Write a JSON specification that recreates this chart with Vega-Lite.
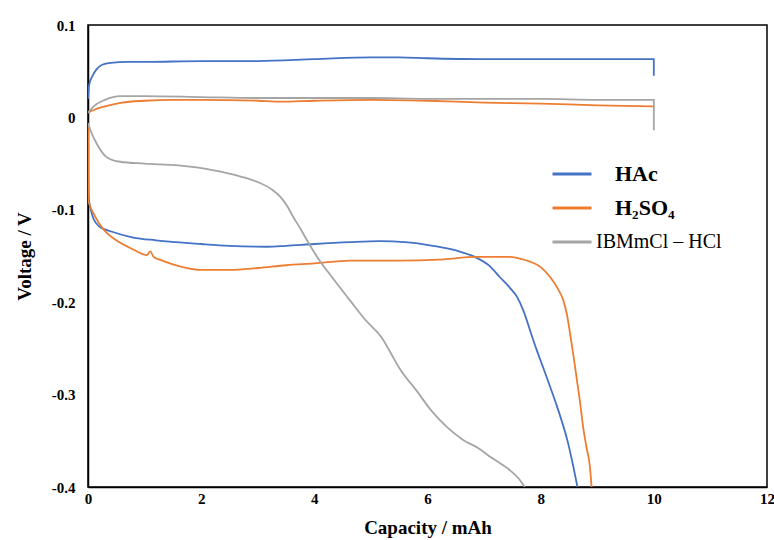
{
  "$schema": "https://vega.github.io/schema/vega-lite/v6.json",
  "autosize": {"type": "none"},
  "width": 679,
  "height": 462,
  "padding": {"left": 88, "top": 25, "right": 7, "bottom": 53},
  "background": "white",
  "config": {
    "view": {"stroke": "black", "strokeWidth": 1.5},
    "font": "Liberation Serif"
  },
  "data": {
    "values": [
      {"s":"HAc","g":"c","i":0,"x":0,"v":0.02},
      {"s":"HAc","g":"c","i":1,"x":0.02,"v":0.035},
      {"s":"HAc","g":"c","i":2,"x":0.08,"v":0.045},
      {"s":"HAc","g":"c","i":3,"x":0.15,"v":0.052},
      {"s":"HAc","g":"c","i":4,"x":0.25,"v":0.057},
      {"s":"HAc","g":"c","i":5,"x":0.4,"v":0.059},
      {"s":"HAc","g":"c","i":6,"x":0.7,"v":0.06},
      {"s":"HAc","g":"c","i":7,"x":1,"v":0.06},
      {"s":"HAc","g":"c","i":8,"x":2,"v":0.061},
      {"s":"HAc","g":"c","i":9,"x":3,"v":0.061},
      {"s":"HAc","g":"c","i":10,"x":4,"v":0.063},
      {"s":"HAc","g":"c","i":11,"x":5,"v":0.065},
      {"s":"HAc","g":"c","i":12,"x":5.5,"v":0.065},
      {"s":"HAc","g":"c","i":13,"x":6,"v":0.064},
      {"s":"HAc","g":"c","i":14,"x":7,"v":0.063},
      {"s":"HAc","g":"c","i":15,"x":8,"v":0.063},
      {"s":"HAc","g":"c","i":16,"x":9,"v":0.063},
      {"s":"HAc","g":"c","i":17,"x":10,"v":0.063},
      {"s":"HAc","g":"c","i":18,"x":10,"v":0.045},

      {"s":"HAc","g":"d","i":0,"x":0,"v":-0.057},
      {"s":"HAc","g":"d","i":1,"x":0.01,"v":-0.085},
      {"s":"HAc","g":"d","i":2,"x":0.05,"v":-0.1},
      {"s":"HAc","g":"d","i":3,"x":0.1,"v":-0.11},
      {"s":"HAc","g":"d","i":4,"x":0.2,"v":-0.118},
      {"s":"HAc","g":"d","i":5,"x":0.44,"v":-0.124},
      {"s":"HAc","g":"d","i":6,"x":0.8,"v":-0.13},
      {"s":"HAc","g":"d","i":7,"x":1.2,"v":-0.133},
      {"s":"HAc","g":"d","i":8,"x":2,"v":-0.137},
      {"s":"HAc","g":"d","i":9,"x":2.5,"v":-0.139},
      {"s":"HAc","g":"d","i":10,"x":3.16,"v":-0.14},
      {"s":"HAc","g":"d","i":11,"x":3.5,"v":-0.139},
      {"s":"HAc","g":"d","i":12,"x":4,"v":-0.137},
      {"s":"HAc","g":"d","i":13,"x":4.63,"v":-0.135},
      {"s":"HAc","g":"d","i":14,"x":5.16,"v":-0.134},
      {"s":"HAc","g":"d","i":15,"x":5.6,"v":-0.135},
      {"s":"HAc","g":"d","i":16,"x":6.1,"v":-0.139},
      {"s":"HAc","g":"d","i":17,"x":6.5,"v":-0.144},
      {"s":"HAc","g":"d","i":18,"x":6.87,"v":-0.152},
      {"s":"HAc","g":"d","i":19,"x":7.1,"v":-0.161},
      {"s":"HAc","g":"d","i":20,"x":7.28,"v":-0.173},
      {"s":"HAc","g":"d","i":21,"x":7.45,"v":-0.184},
      {"s":"HAc","g":"d","i":22,"x":7.58,"v":-0.194},
      {"s":"HAc","g":"d","i":23,"x":7.7,"v":-0.21},
      {"s":"HAc","g":"d","i":24,"x":7.81,"v":-0.23},
      {"s":"HAc","g":"d","i":25,"x":7.92,"v":-0.25},
      {"s":"HAc","g":"d","i":26,"x":8.04,"v":-0.27},
      {"s":"HAc","g":"d","i":27,"x":8.17,"v":-0.292},
      {"s":"HAc","g":"d","i":28,"x":8.29,"v":-0.313},
      {"s":"HAc","g":"d","i":29,"x":8.38,"v":-0.33},
      {"s":"HAc","g":"d","i":30,"x":8.47,"v":-0.349},
      {"s":"HAc","g":"d","i":31,"x":8.56,"v":-0.373},
      {"s":"HAc","g":"d","i":32,"x":8.65,"v":-0.4},

      {"s":"H₂SO₄","g":"c","i":0,"x":0,"v":0.005},
      {"s":"H₂SO₄","g":"c","i":1,"x":0.1,"v":0.008},
      {"s":"H₂SO₄","g":"c","i":2,"x":0.3,"v":0.012},
      {"s":"H₂SO₄","g":"c","i":3,"x":0.6,"v":0.016},
      {"s":"H₂SO₄","g":"c","i":4,"x":1,"v":0.018},
      {"s":"H₂SO₄","g":"c","i":5,"x":1.5,"v":0.019},
      {"s":"H₂SO₄","g":"c","i":6,"x":2,"v":0.019},
      {"s":"H₂SO₄","g":"c","i":7,"x":3,"v":0.018},
      {"s":"H₂SO₄","g":"c","i":8,"x":3.4,"v":0.017},
      {"s":"H₂SO₄","g":"c","i":9,"x":4,"v":0.018},
      {"s":"H₂SO₄","g":"c","i":10,"x":5,"v":0.019},
      {"s":"H₂SO₄","g":"c","i":11,"x":6,"v":0.018},
      {"s":"H₂SO₄","g":"c","i":12,"x":7,"v":0.016},
      {"s":"H₂SO₄","g":"c","i":13,"x":8,"v":0.015},
      {"s":"H₂SO₄","g":"c","i":14,"x":9,"v":0.013},
      {"s":"H₂SO₄","g":"c","i":15,"x":10,"v":0.012},

      {"s":"H₂SO₄","g":"d","i":0,"x":0,"v":-0.006},
      {"s":"H₂SO₄","g":"d","i":1,"x":0.01,"v":-0.09},
      {"s":"H₂SO₄","g":"d","i":2,"x":0.05,"v":-0.098},
      {"s":"H₂SO₄","g":"d","i":3,"x":0.09,"v":-0.103},
      {"s":"H₂SO₄","g":"d","i":4,"x":0.2,"v":-0.115},
      {"s":"H₂SO₄","g":"d","i":5,"x":0.33,"v":-0.125},
      {"s":"H₂SO₄","g":"d","i":6,"x":0.5,"v":-0.133},
      {"s":"H₂SO₄","g":"d","i":7,"x":0.8,"v":-0.143},
      {"s":"H₂SO₄","g":"d","i":8,"x":1.04,"v":-0.149},
      {"s":"H₂SO₄","g":"d","i":9,"x":1.1,"v":-0.145},
      {"s":"H₂SO₄","g":"d","i":10,"x":1.16,"v":-0.151},
      {"s":"H₂SO₄","g":"d","i":11,"x":1.27,"v":-0.154},
      {"s":"H₂SO₄","g":"d","i":12,"x":1.5,"v":-0.159},
      {"s":"H₂SO₄","g":"d","i":13,"x":1.75,"v":-0.163},
      {"s":"H₂SO₄","g":"d","i":14,"x":2,"v":-0.165},
      {"s":"H₂SO₄","g":"d","i":15,"x":2.5,"v":-0.165},
      {"s":"H₂SO₄","g":"d","i":16,"x":3,"v":-0.163},
      {"s":"H₂SO₄","g":"d","i":17,"x":3.5,"v":-0.16},
      {"s":"H₂SO₄","g":"d","i":18,"x":4,"v":-0.158},
      {"s":"H₂SO₄","g":"d","i":19,"x":4.63,"v":-0.155},
      {"s":"H₂SO₄","g":"d","i":20,"x":5.5,"v":-0.155},
      {"s":"H₂SO₄","g":"d","i":21,"x":6.2,"v":-0.154},
      {"s":"H₂SO₄","g":"d","i":22,"x":6.87,"v":-0.151},
      {"s":"H₂SO₄","g":"d","i":23,"x":7.46,"v":-0.151},
      {"s":"H₂SO₄","g":"d","i":24,"x":7.65,"v":-0.153},
      {"s":"H₂SO₄","g":"d","i":25,"x":7.81,"v":-0.156},
      {"s":"H₂SO₄","g":"d","i":26,"x":8,"v":-0.162},
      {"s":"H₂SO₄","g":"d","i":27,"x":8.17,"v":-0.173},
      {"s":"H₂SO₄","g":"d","i":28,"x":8.3,"v":-0.185},
      {"s":"H₂SO₄","g":"d","i":29,"x":8.4,"v":-0.198},
      {"s":"H₂SO₄","g":"d","i":30,"x":8.47,"v":-0.215},
      {"s":"H₂SO₄","g":"d","i":31,"x":8.52,"v":-0.234},
      {"s":"H₂SO₄","g":"d","i":32,"x":8.58,"v":-0.258},
      {"s":"H₂SO₄","g":"d","i":33,"x":8.64,"v":-0.284},
      {"s":"H₂SO₄","g":"d","i":34,"x":8.7,"v":-0.31},
      {"s":"H₂SO₄","g":"d","i":35,"x":8.75,"v":-0.335},
      {"s":"H₂SO₄","g":"d","i":36,"x":8.81,"v":-0.357},
      {"s":"H₂SO₄","g":"d","i":37,"x":8.87,"v":-0.378},
      {"s":"H₂SO₄","g":"d","i":38,"x":8.9,"v":-0.4},

      {"s":"IBMmCl – HCl","g":"c","i":0,"x":0,"v":0.005},
      {"s":"IBMmCl – HCl","g":"c","i":1,"x":0.1,"v":0.012},
      {"s":"IBMmCl – HCl","g":"c","i":2,"x":0.3,"v":0.019},
      {"s":"IBMmCl – HCl","g":"c","i":3,"x":0.57,"v":0.023},
      {"s":"IBMmCl – HCl","g":"c","i":4,"x":1,"v":0.023},
      {"s":"IBMmCl – HCl","g":"c","i":5,"x":2,"v":0.022},
      {"s":"IBMmCl – HCl","g":"c","i":6,"x":3,"v":0.021},
      {"s":"IBMmCl – HCl","g":"c","i":7,"x":4,"v":0.021},
      {"s":"IBMmCl – HCl","g":"c","i":8,"x":5,"v":0.021},
      {"s":"IBMmCl – HCl","g":"c","i":9,"x":6,"v":0.02},
      {"s":"IBMmCl – HCl","g":"c","i":10,"x":7,"v":0.02},
      {"s":"IBMmCl – HCl","g":"c","i":11,"x":8,"v":0.02},
      {"s":"IBMmCl – HCl","g":"c","i":12,"x":9,"v":0.019},
      {"s":"IBMmCl – HCl","g":"c","i":13,"x":10,"v":0.019},
      {"s":"IBMmCl – HCl","g":"c","i":14,"x":10,"v":-0.014},

      {"s":"IBMmCl – HCl","g":"d","i":0,"x":0,"v":-0.006},
      {"s":"IBMmCl – HCl","g":"d","i":1,"x":0.05,"v":-0.015},
      {"s":"IBMmCl – HCl","g":"d","i":2,"x":0.15,"v":-0.028},
      {"s":"IBMmCl – HCl","g":"d","i":3,"x":0.33,"v":-0.043},
      {"s":"IBMmCl – HCl","g":"d","i":4,"x":0.57,"v":-0.048},
      {"s":"IBMmCl – HCl","g":"d","i":5,"x":1,"v":-0.05},
      {"s":"IBMmCl – HCl","g":"d","i":6,"x":1.6,"v":-0.052},
      {"s":"IBMmCl – HCl","g":"d","i":7,"x":2.2,"v":-0.057},
      {"s":"IBMmCl – HCl","g":"d","i":8,"x":2.7,"v":-0.064},
      {"s":"IBMmCl – HCl","g":"d","i":9,"x":3.04,"v":-0.071},
      {"s":"IBMmCl – HCl","g":"d","i":10,"x":3.25,"v":-0.078},
      {"s":"IBMmCl – HCl","g":"d","i":11,"x":3.4,"v":-0.086},
      {"s":"IBMmCl – HCl","g":"d","i":12,"x":3.52,"v":-0.096},
      {"s":"IBMmCl – HCl","g":"d","i":13,"x":3.63,"v":-0.108},
      {"s":"IBMmCl – HCl","g":"d","i":14,"x":3.75,"v":-0.12},
      {"s":"IBMmCl – HCl","g":"d","i":15,"x":3.87,"v":-0.133},
      {"s":"IBMmCl – HCl","g":"d","i":16,"x":4.05,"v":-0.151},
      {"s":"IBMmCl – HCl","g":"d","i":17,"x":4.3,"v":-0.172},
      {"s":"IBMmCl – HCl","g":"d","i":18,"x":4.63,"v":-0.198},
      {"s":"IBMmCl – HCl","g":"d","i":19,"x":4.9,"v":-0.219},
      {"s":"IBMmCl – HCl","g":"d","i":20,"x":5.21,"v":-0.24},
      {"s":"IBMmCl – HCl","g":"d","i":21,"x":5.35,"v":-0.255},
      {"s":"IBMmCl – HCl","g":"d","i":22,"x":5.51,"v":-0.272},
      {"s":"IBMmCl – HCl","g":"d","i":23,"x":5.81,"v":-0.296},
      {"s":"IBMmCl – HCl","g":"d","i":24,"x":6.05,"v":-0.316},
      {"s":"IBMmCl – HCl","g":"d","i":25,"x":6.34,"v":-0.335},
      {"s":"IBMmCl – HCl","g":"d","i":26,"x":6.63,"v":-0.349},
      {"s":"IBMmCl – HCl","g":"d","i":27,"x":6.9,"v":-0.358},
      {"s":"IBMmCl – HCl","g":"d","i":28,"x":7.1,"v":-0.367},
      {"s":"IBMmCl – HCl","g":"d","i":29,"x":7.3,"v":-0.375},
      {"s":"IBMmCl – HCl","g":"d","i":30,"x":7.46,"v":-0.382},
      {"s":"IBMmCl – HCl","g":"d","i":31,"x":7.6,"v":-0.39},
      {"s":"IBMmCl – HCl","g":"d","i":32,"x":7.72,"v":-0.4}
    ]
  },
  "mark": {"type": "line", "strokeWidth": 1.8, "clip": true, "interpolate": "monotone"},
  "encoding": {
    "x": {
      "field": "x", "type": "quantitative",
      "scale": {"domain": [0, 12], "nice": false},
      "axis": {
        "title": "Capacity / mAh", "values": [0, 2, 4, 6, 8, 10, 12],
        "grid": false, "ticks": false, "domainColor": "black", "domainWidth": 1.5,
        "labelFont": "Liberation Serif", "labelFontSize": 15, "labelFontWeight": "bold", "labelColor": "black",
        "labelPadding": 4, "labelFlush": false,
        "titleFont": "Liberation Serif", "titleFontSize": 19, "titleFontWeight": "bold", "titleColor": "black",
        "titlePadding": 12
      }
    },
    "y": {
      "field": "v", "type": "quantitative",
      "scale": {"domain": [-0.4, 0.1], "nice": false, "zero": false},
      "axis": {
        "title": "Voltage / V", "values": [-0.4, -0.3, -0.2, -0.1, 0, 0.1],
        "labelExpr": "datum.value == 0 ? '0' : (datum.value < 0 ? '-' + format(-datum.value, '.1f') : format(datum.value, '.1f'))",
        "grid": false, "ticks": false, "domainColor": "black", "domainWidth": 1.5,
        "labelFont": "Liberation Serif", "labelFontSize": 15, "labelFontWeight": "bold", "labelColor": "black",
        "labelPadding": 13, "labelFlush": false,
        "titleFont": "Liberation Serif", "titleFontSize": 19, "titleFontWeight": "bold", "titleColor": "black",
        "titlePadding": 17
      }
    },
    "color": {
      "field": "s", "type": "nominal",
      "scale": {"domain": ["HAc", "H₂SO₄", "IBMmCl – HCl"], "range": ["#4472C4", "#ED7D31", "#A5A5A5"]},
      "legend": {
        "orient": "none", "legendX": 463, "legendY": 128, "title": null, "padding": 0,
        "symbolType": "stroke", "symbolSize": 1521, "symbolStrokeWidth": 3,
        "labelFont": "Liberation Serif", "labelFontSize": 20, "labelColor": "black",
        "rowPadding": 2, "labelOffset": 3,
        "encode": {"labels": {"update": {
          "fontWeight": {"signal": "datum.value == 'IBMmCl – HCl' ? 'normal' : 'bold'"},
          "fontSize": {"signal": "datum.value == 'IBMmCl – HCl' ? 20 : 22"},
          "dx": {"signal": "datum.value == 'IBMmCl – HCl' ? 0 : 19"}
        }}}
      }
    },
    "detail": {"field": "g"},
    "order": {"field": "i", "type": "quantitative"}
  }
}
